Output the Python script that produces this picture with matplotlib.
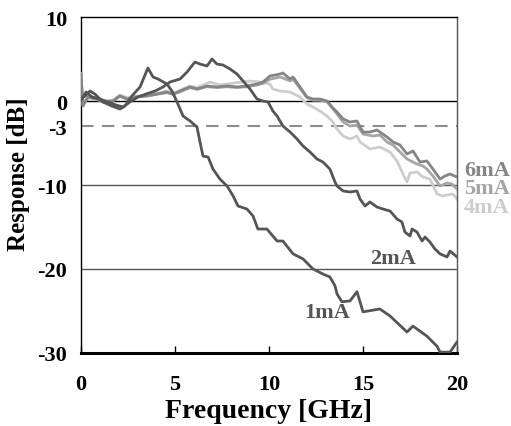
import matplotlib
matplotlib.use("Agg")
from matplotlib import pyplot as plt

plt.rcParams["axes.unicode_minus"] = False

# frequency response per bias current (GHz, dB)
f_1ma = [0, 0.21, 0.48, 0.74, 1.17, 1.65, 2.07, 2.34, 2.71, 3.14, 3.56, 3.83, 4.10, 4.57, 4.84,
         5.11, 5.43, 5.80, 6.17, 6.33, 6.49, 6.76, 7.02, 7.39, 7.77, 8.09, 8.35, 8.83, 9.15, 9.41,
         9.89, 10.43, 10.74, 11.28, 11.81, 12.34, 12.87, 13.24, 13.51, 13.62, 13.88, 14.31, 14.68,
         15.0, 15.9, 16.44, 17.34, 17.66, 18.4, 18.94, 19.1, 19.63, 20.0]
r_1ma = [0.24, 0.6, 1.19, 0.83, -0.12, -0.6, -0.95, -0.6, 0.6, 1.67, 3.93, 2.86, 2.62, 2.02, 1.19,
         -0.12, -1.79, -2.38, -3.1, -4.88, -6.55, -6.67, -8.1, -9.29, -10.12, -11.3, -12.5, -12.86,
         -13.69, -15.24, -15.24, -16.67, -16.67, -18.2, -18.8, -20.0, -20.6, -20.95, -22.0, -22.98,
         -23.9, -23.8, -22.7, -25.1, -24.76, -25.6, -27.5, -26.8, -28.0, -29.2, -29.9, -29.9, -28.7]

f_2ma = [0, 0.27, 0.59, 1.0, 1.44, 1.86, 2.23, 2.6, 3.03, 3.46, 3.94, 4.36, 4.73, 5.27, 5.64, 6.06,
         6.33, 6.7, 6.97, 7.23, 7.55, 7.93, 8.3, 8.62, 8.99, 9.36, 9.68, 9.95, 10.21, 10.43, 10.74,
         11.12, 11.49, 11.81, 12.18, 12.55, 12.87, 13.24, 13.51, 13.62, 13.94, 14.31, 14.68, 14.84,
         15.11, 15.37, 15.74, 16.06, 16.44, 16.81, 17.07, 17.23, 17.5, 17.61, 17.87, 18.14, 18.3,
         18.56, 18.83, 19.1, 19.47, 19.63, 20.0]
r_2ma = [0.1, 1.07, 0.48, 0.24, -0.12, -0.48, -0.71, -0.12, 0.48, 0.83, 1.19, 1.67, 2.26, 2.62,
         3.45, 4.64, 4.4, 4.17, 5.0, 4.4, 4.29, 3.81, 3.21, 2.38, 1.43, 0.24, 0.0, -0.12, -1.19,
         -1.79, -2.98, -3.69, -4.52, -5.36, -6.07, -6.9, -7.26, -8.1, -9.64, -10.12, -10.71, -10.83,
         -10.71, -11.67, -12.5, -12.02, -12.62, -12.86, -13.1, -14.05, -14.4, -15.6, -16.07, -15.24,
         -15.6, -16.67, -16.19, -16.79, -17.62, -18.2, -18.57, -17.86, -18.57]

f_4ma = [0, 0.1, 0.37, 0.85, 1.17, 1.7, 2.07, 2.45, 2.98, 3.51, 4.04, 4.57, 4.89, 5.27, 5.8, 6.17,
         6.86, 7.4, 8.0, 8.99, 9.52, 10.05, 10.21, 10.59, 11.12, 11.65, 12.02, 12.34, 12.71, 13.09,
         13.4, 13.62, 13.94, 14.31, 14.68, 14.84, 15.37, 15.9, 16.44, 16.81, 17.13, 17.34, 17.5,
         17.87, 18.19, 18.56, 18.94, 19.26, 19.47, 19.79, 20.0]
r_4ma = [3.0, -0.4, 0.6, 0.3, 0.0, 0.1, 0.7, 0.4, 0.6, 0.7, 0.9, 1.2, 0.9, 1.3, 1.8, 1.6, 2.26,
         1.9, 2.1, 2.38, 2.26, 2.02, 1.43, 1.19, 1.07, 0.48, -0.36, -0.71, -1.19, -1.79, -2.5,
         -3.33, -4.17, -4.52, -4.17, -4.88, -5.71, -5.48, -6.07, -7.14, -8.69, -9.64, -8.57, -8.45,
         -9.05, -9.29, -11.07, -11.31, -11.19, -11.07, -11.67]

f_5ma = [0, 0.1, 0.37, 0.85, 1.17, 1.7, 2.07, 2.45, 2.98, 3.51, 4.04, 4.57, 4.89, 5.27, 5.8, 6.17,
         6.7, 7.23, 7.77, 8.3, 8.83, 9.36, 9.68, 10.05, 10.59, 11.12, 11.28, 11.65, 12.02, 12.34,
         12.71, 13.09, 13.35, 13.62, 13.94, 14.31, 14.68, 15.0, 15.53, 15.9, 16.28, 16.6, 16.97,
         17.34, 17.66, 17.87, 18.19, 18.4, 18.72, 19.1, 19.47, 19.73, 20.0]
r_5ma = [3.3, -0.5, 0.4, 0.2, -0.1, 0.0, 0.6, 0.2, 0.5, 0.6, 0.8, 1.0, 0.8, 1.1, 1.6, 1.4, 1.7,
         1.6, 1.7, 1.6, 1.7, 1.9, 2.1, 2.6, 2.86, 2.4, 2.6, 1.5, 0.4, 0.1, 0.1, -0.1, -0.8, -1.55,
         -2.5, -2.98, -2.86, -3.93, -4.17, -4.05, -4.88, -5.24, -6.07, -6.9, -7.26, -7.5, -7.74,
         -8.1, -8.93, -10.12, -9.76, -9.88, -10.48]

f_6ma = [0, 0.1, 0.37, 0.85, 1.17, 1.7, 2.07, 2.45, 2.98, 3.51, 4.04, 4.57, 4.89, 5.27, 5.8, 6.17,
         6.7, 7.23, 7.77, 8.3, 8.83, 9.36, 9.68, 10.05, 10.59, 10.74, 11.12, 11.28, 11.65, 12.02,
         12.34, 12.71, 13.09, 13.35, 13.62, 13.94, 14.31, 14.68, 15.0, 15.37, 15.74, 16.28, 16.6,
         16.97, 17.34, 17.66, 18.03, 18.4, 18.72, 19.1, 19.36, 19.63, 20.0]
r_6ma = [3.2, -0.6, 0.48, 0.24, -0.12, 0.0, 0.6, 0.24, 0.48, 0.6, 0.83, 1.07, 0.83, 1.19, 1.67,
         1.43, 1.79, 1.67, 1.79, 1.67, 1.79, 2.02, 2.26, 2.98, 3.21, 3.33, 2.62, 2.86, 1.67, 0.48,
         0.24, 0.24, 0.0, -0.71, -1.31, -2.14, -2.5, -2.38, -3.69, -3.69, -3.45, -4.29, -4.88,
         -5.24, -6.31, -5.95, -7.26, -7.14, -8.1, -9.29, -8.93, -8.69, -9.05]

yticks = [10, 0, -3, -10, -20, -30]
xticks = [0, 5, 10, 15, 20]

dark = "#555555"
serif = "Liberation Serif"

fig = plt.figure(figsize=(5.11, 4.27), dpi=100)
ax = fig.add_axes([0.1585, 0.171, 0.7358, 0.7868])

# reference lines
for y in (-10, -20):
    ax.axhline(y, color="#555555", lw=1.0, zorder=1)
ax.axhline(0, color="black", lw=1.0, zorder=1)
ax.axhline(-3, color="#8c8c8c", lw=1.5, ls=(0, (6, 4)), zorder=1)

ax.plot(f_4ma, r_4ma, color="#cdcdcd", lw=2.0, zorder=2)
ax.plot(f_5ma, r_5ma, color="#a6a6a6", lw=2.0, zorder=3)
ax.plot(f_6ma, r_6ma, color="#858585", lw=2.0, zorder=4)
ax.plot(f_2ma, r_2ma, color=dark, lw=2.0, zorder=5)
ax.plot(f_1ma, r_1ma, color=dark, lw=2.0, zorder=6)

lab = dict(fontfamily=serif, fontweight="bold", fontsize=16, ha="center", va="center")
ax.text(21.6, -8.2, "6mA", color="#858585", clip_on=False, **lab)
ax.text(21.6, -10.4, "5mA", color="#a6a6a6", clip_on=False, **lab)
ax.text(21.6, -12.6, "4mA", color="#cdcdcd", clip_on=False, **lab)
ax.text(16.6, -18.7, "2mA", color=dark, **lab)
ax.text(13.1, -25.1, "1mA", color=dark, **lab)

ax.set_xlim(0, 20)
ax.set_ylim(-30, 10)
ax.set_xticks(xticks)
ax.set_yticks(yticks)
ax.tick_params(axis="x", direction="in", length=5, width=1, pad=15)
ax.tick_params(axis="y", length=0, pad=10)
for t in ax.get_xticklabels() + ax.get_yticklabels():
    t.set_fontfamily(serif)
    t.set_fontweight("bold")
    t.set_fontsize(16)

ax.spines["bottom"].set_linewidth(2.2)
for s in ("left", "top", "right"):
    ax.spines[s].set_linewidth(1.0)
ax.spines["right"].set_color("#555555")

ax.set_xlabel("Frequency [GHz]", fontfamily=serif, fontweight="bold", fontsize=20, labelpad=3)
ax.set_ylabel("Response [dB]", fontfamily=serif, fontweight="bold", fontsize=18)
ax.yaxis.set_label_coords(-0.135, 0.535)

fig.savefig("out.png", dpi=100)
plt.close(fig)
